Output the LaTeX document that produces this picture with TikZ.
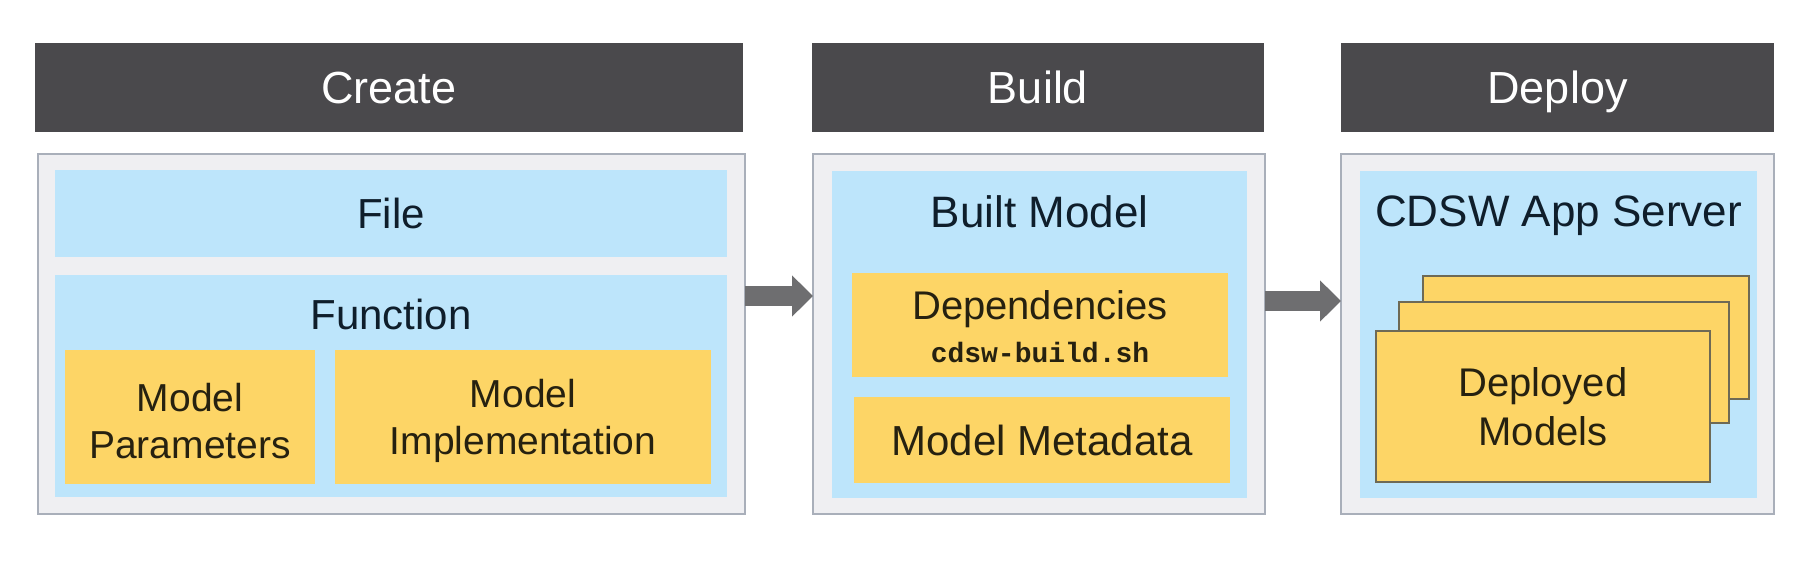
\documentclass[tikz,border=0pt]{standalone}
\usepackage{fontspec}
\setmainfont{Liberation Sans}
\newfontfamily\codefont{Liberation Mono}
\usetikzlibrary{arrows.meta}
\definecolor{hdr}{HTML}{4A494C}
\definecolor{outerfill}{HTML}{EFEFF2}
\definecolor{outerline}{HTML}{A9AFBA}
\definecolor{bluefill}{HTML}{BDE5FB}
\definecolor{yelfill}{HTML}{FDD566}
\definecolor{stackline}{HTML}{6E6A55}
\definecolor{arrowgray}{HTML}{6E6E70}
\definecolor{bluetext}{HTML}{0F1E2B}
\definecolor{yeltext}{HTML}{262110}
\tikzset{
  box/.style={rectangle, inner sep=0pt, outer sep=0pt},
  header/.style={box, fill=hdr, text=white, font=\fontsize{45}{50}\selectfont, text height=36pt, text depth=4pt},
  outerbox/.style={box, fill=outerfill, draw=outerline, line width=1.5pt},
  bluebox/.style={box, fill=bluefill},
  yelbox/.style={box, fill=yelfill, text=yeltext, align=center, font=\fontsize{39}{47}\selectfont},
  yellabel/.style={inner sep=0pt, text=yeltext, align=center, font=\fontsize{39}{47}\selectfont},
  stackbox/.style={box, fill=yelfill, draw=stackline, line width=1.3pt},
  bluelabel/.style={inner sep=0pt, text=bluetext, font=\fontsize{42}{48}\selectfont},
  flowarrow/.style={draw=arrowgray, line width=20pt, -{Triangle[length=21pt, width=40pt]}},
}
\begin{document}
\begin{tikzpicture}[x=1pt, y=-1pt]
\useasboundingbox[fill=white] (0,0) rectangle (1820,576);
% headers
\node[header, minimum width=708pt, minimum height=89pt] (hcreate) at (389,87.5) {Create};
\node[header, minimum width=452pt, minimum height=89pt] (hbuild) at (1038,87.5) {Build};
\node[header, minimum width=433pt, minimum height=89pt] (hdeploy) at (1557.5,87.5) {Deploy};
% outer boxes
\node[outerbox, minimum width=707pt, minimum height=360pt] (ocreate) at (391.5,334) {};
\node[outerbox, minimum width=452pt, minimum height=360pt] (obuild) at (1039,334) {};
\node[outerbox, minimum width=433pt, minimum height=360pt] (odeploy) at (1557.5,334) {};
% create column
\node[bluebox, minimum width=672pt, minimum height=87pt] (file) at (391,213.5) {};
\node[bluelabel] (filetext) at (file.center) {File};
\node[bluebox, minimum width=672pt, minimum height=222pt] (func) at (391,386) {};
\node[bluelabel] (functext) at (391,314) {Function};
\node[yelbox, minimum width=250pt, minimum height=134pt] (mparam) at (190,417) {};
\node[yellabel] (mparamtext) at (190,421) {Model\\Parameters};
\node[yelbox, minimum width=376pt, minimum height=134pt] (mimpl) at (523,417) {};
\node[yellabel] (mimpltext) at (523,421) {Model\\Implementation};
% build column
\node[bluebox, minimum width=415pt, minimum height=327pt] (built) at (1039.5,334.5) {};
\node[bluelabel, font=\fontsize{44}{48}\selectfont] (builttext) at (1039.5,212) {Built Model};
\node[yelbox, minimum width=376pt, minimum height=104pt] (deps) at (1040,325) {};
\node[inner sep=0pt, text=yeltext, font=\fontsize{40}{44}\selectfont] (depstext) at (1040,309) {Dependencies};
\node[inner sep=0pt, text=yeltext, font=\codefont\bfseries\fontsize{28}{30}\selectfont] (depscode) at (1040,352) {cdsw-build.sh};
\node[yelbox, minimum width=376pt, minimum height=86pt, font=\fontsize{42}{48}\selectfont] (meta) at (1042,440) {Model Metadata};
% deploy column
\node[bluebox, minimum width=397pt, minimum height=327pt] (server) at (1558.5,334.5) {};
\node[bluelabel, font=\fontsize{44}{48}\selectfont] (servertext) at (1558.5,216) {CDSW App Server};
\node[stackbox, minimum width=326pt, minimum height=123pt] (stackA) at (1586,337.5) {};
\node[stackbox, minimum width=330pt, minimum height=121pt] (stackB) at (1564,362.5) {};
\node[stackbox, minimum width=334pt, minimum height=151pt, align=center, text=yeltext, font=\fontsize{40}{49}\selectfont] (stackC) at (1543,406.5) {Deployed\\Models};
% arrows
\draw[flowarrow] ([yshift=38pt]ocreate.east) -- ([yshift=38pt]obuild.west);
\draw[flowarrow] ([yshift=33pt]obuild.east) -- ([yshift=33pt]odeploy.west);
\end{tikzpicture}
\end{document}
